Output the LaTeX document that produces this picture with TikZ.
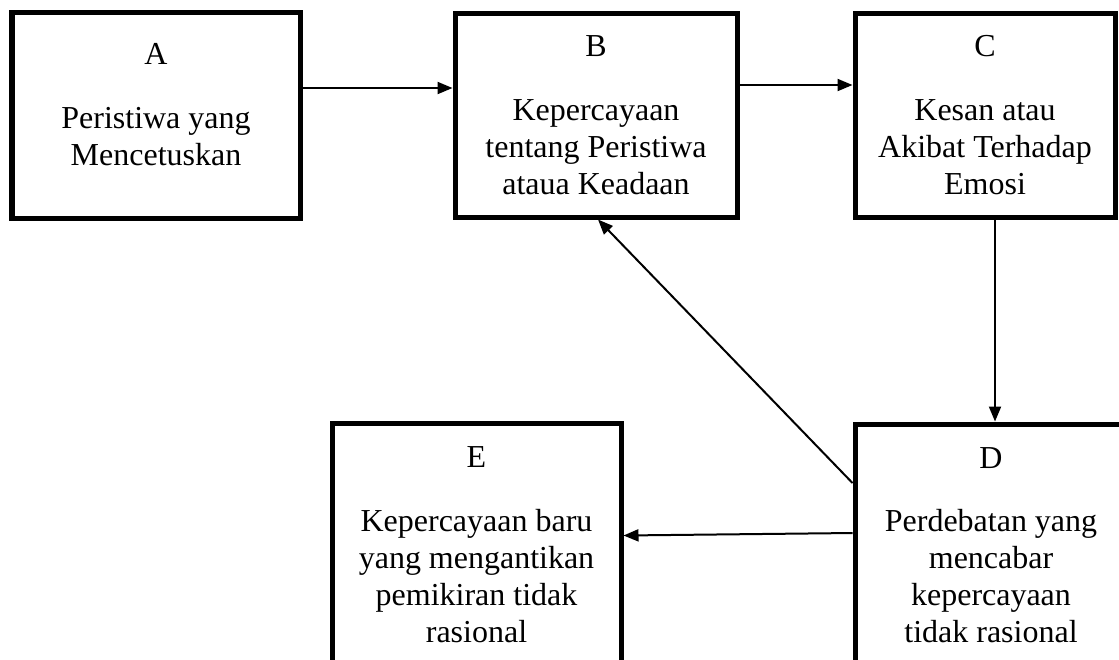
\documentclass[tikz,border=0pt]{standalone}
\usepackage{fontspec}
\setmainfont{Liberation Serif}
\usetikzlibrary{arrows.meta}

\begin{document}
\begin{tikzpicture}[
  kotak/.style={draw, line width=0.1cm, align=center, inner sep=0pt,
    font=\fontsize{18.2pt}{21pt}\selectfont},
  panah/.style={draw, line width=0.04cm, -{Triangle[length=0.3cm,width=0.24cm]}}
]
\useasboundingbox (0,0) rectangle (22.38,-13.18);
\clip (0,0) rectangle (22.38,-13.18);

\node[kotak, minimum width=5.76cm, minimum height=4.12cm] (A) at (3.12,-2.30)
  {A\\[0.54cm]Peristiwa yang\\Mencetuskan\\[-0.3cm]\mbox{}};
\node[kotak, minimum width=5.64cm, minimum height=4.08cm] (B) at (11.92,-2.30)
  {B\\[0.54cm]Kepercayaan\\tentang Peristiwa\\ataua Keadaan};
\node[kotak, minimum width=5.20cm, minimum height=4.08cm] (C) at (19.70,-2.30)
  {C\\[0.54cm]Kesan atau\\Akibat Terhadap\\Emosi};
\node[kotak, minimum width=5.44cm, minimum height=4.84cm] (D) at (19.82,-10.90)
  {D\\[0.54cm]Perdebatan yang\\mencabar\\kepercayaan\\tidak rasional};
\node[kotak, minimum width=5.78cm, minimum height=4.84cm] (E) at (9.53,-10.89)
  {E\\[0.54cm]Kepercayaan baru\\yang mengantikan\\pemikiran tidak\\rasional};

\path[panah] ([yshift=0.54cm]A.east) -- ([yshift=0.54cm]B.west);
\path[panah] ([yshift=0.60cm]B.east) -- ([yshift=0.60cm]C.west);
\path[panah] ([xshift=0.2cm]C.south) -- ([xshift=0.2cm]C.south |- D.north);
\path[panah] ([yshift=0.24cm]D.west) -- ([yshift=0.18cm]E.east);
\path[panah] ([yshift=1.24cm]D.west) -- ([xshift=0.04cm]B.south);
\end{tikzpicture}
\end{document}
